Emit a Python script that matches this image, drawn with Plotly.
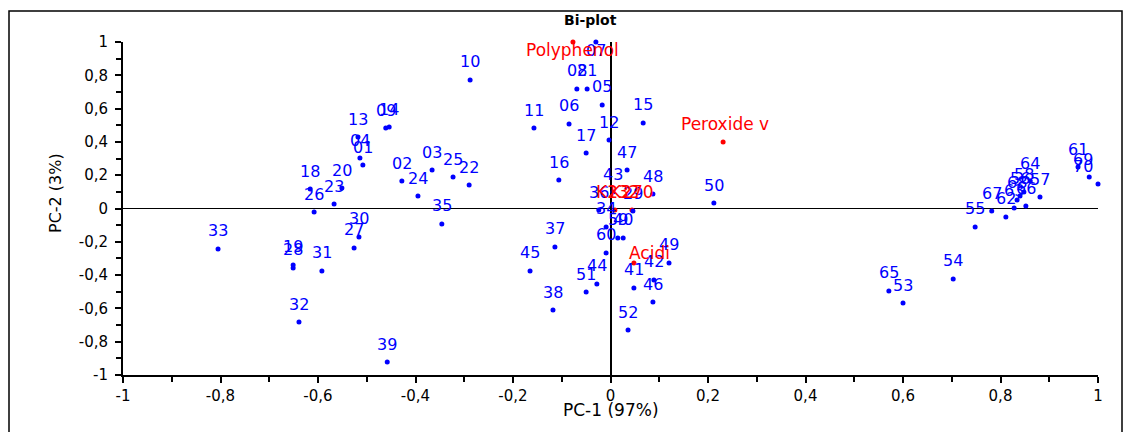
import plotly.graph_objects as go

# ---- observations (scores) ----
obs_labels = ["01", "02", "03", "04", "05", "06", "07", "08", "09", "10",
              "11", "12", "13", "14", "15", "16", "17", "18", "19", "20",
              "21", "22", "23", "24", "25", "26", "27", "28", "29", "30",
              "31", "32", "33", "34", "35", "36", "37", "38", "39", "40",
              "41", "42", "43", "44", "45", "46", "47", "48", "49", "50",
              "51", "52", "53", "54", "55", "56", "57", "58", "59", "60",
              "61", "62", "63", "64", "65", "66", "67", "68", "69", "70"]
obs_x = [-0.508, -0.428, -0.366, -0.514, -0.017, -0.085, -0.030, -0.069, -0.461, -0.288,
         -0.157, -0.003, -0.518, -0.454, 0.067, -0.106, -0.050, -0.616, -0.651, -0.551,
         -0.048, -0.290, -0.567, -0.395, -0.323, -0.608, -0.526, -0.651, 0.046, -0.516,
         -0.592, -0.639, -0.805, -0.009, -0.346, -0.024, -0.114, -0.118, -0.458, 0.026,
         0.048, 0.089, 0.005, -0.028, -0.165, 0.087, 0.034, 0.087, 0.120, 0.212,
         -0.050, 0.036, 0.600, 0.703, 0.748, 0.840, 0.881, 0.848, 0.015, -0.009,
         0.959, 0.811, 0.828, 0.861, 0.571, 0.852, 0.782, 0.834, 0.982, 1.000]
obs_y = [0.261, 0.165, 0.231, 0.303, 0.622, 0.508, 1.000, 0.718, 0.483, 0.772,
         0.483, 0.411, 0.429, 0.489, 0.514, 0.171, 0.333, 0.117, -0.339, 0.123,
         0.718, 0.141, 0.027, 0.075, 0.189, -0.021, -0.237, -0.357, -0.015, -0.171,
         -0.375, -0.682, -0.243, -0.111, -0.093, -0.009, -0.231, -0.610, -0.922, -0.177,
         -0.477, -0.429, 0.099, -0.453, -0.375, -0.562, 0.231, 0.087, -0.327, 0.033,
         -0.502, -0.730, -0.568, -0.423, -0.111, 0.075, 0.069, 0.099, -0.177, -0.267,
         0.249, -0.051, 0.003, 0.165, -0.495, 0.015, -0.015, 0.051, 0.189, 0.147]

# ---- variables (loadings) ----
var_labels = ["K232", "K270", "Polyphenol", "Peroxide v", "Acidi"]
var_x = [0.009, 0.044, -0.077, 0.231, 0.048]
var_y = [-0.009, -0.009, 1.000, 0.399, -0.327]

# ---- axis ticks ----
tick_vals = [-1, -0.8, -0.6, -0.4, -0.2, 0, 0.2, 0.4, 0.6, 0.8, 1]
tick_text = ["-1", "-0,8", "-0,6", "-0,4", "-0,2", "0", "0,2", "0,4", "0,6", "0,8", "1"]
minor_vals = [-0.9, -0.7, -0.5, -0.3, -0.1, 0.1, 0.3, 0.5, 0.7, 0.9]

FONT = "DejaVu Sans, Verdana, sans-serif"
BLUE = "#0000ff"
RED = "#ff0000"

# plot-area geometry (pixels), used for label placement only
L, R, T, B = 123, 32, 42, 57
W, H = 1130, 432
PW = W - L - R
PH = H - T - B

fig = go.Figure()

fig.add_trace(go.Scatter(x=var_x, y=var_y, mode="markers",
                         marker=dict(color=RED, size=5), hoverinfo="text",
                         text=var_labels, showlegend=False, cliponaxis=False))
fig.add_trace(go.Scatter(x=obs_x, y=obs_y, mode="markers",
                         marker=dict(color=BLUE, size=5), hoverinfo="text",
                         text=obs_labels, showlegend=False, cliponaxis=False))

annotations = []


def label_shift(x, y):
    px = L + (x + 1) / 2 * PW
    xs, ys = 0, 18
    if px > 1083:
        xs = 1083 - px
    if y > 0.9:
        ys = -8
    return xs, ys


for lab, x, y in zip(obs_labels, obs_x, obs_y):
    xs, ys = label_shift(x, y)
    annotations.append(dict(x=x, y=y, text=lab, showarrow=False, xshift=xs, yshift=ys,
                            font=dict(family=FONT, size=16, color=BLUE),
                            xanchor="center", yanchor="middle"))

var_shift = {"K232": (3, 18), "K270": (0, 18), "Polyphenol": (0, -8),
             "Peroxide v": (2, 18), "Acidi": (16, 10)}
for lab, x, y in zip(var_labels, var_x, var_y):
    xs, ys = var_shift[lab]
    annotations.append(dict(x=x, y=y, text=lab, showarrow=False, xshift=xs, yshift=ys,
                            font=dict(family=FONT, size=17, color=RED),
                            xanchor="center", yanchor="middle"))

# title and axis titles
annotations.append(dict(xref="paper", yref="paper", x=(590 - L) / PW, y=(H - B - 20) / PH,
                        text="<b>Bi-plot</b>", showarrow=False,
                        font=dict(family=FONT, size=14, color="black"),
                        xanchor="center", yanchor="middle"))
annotations.append(dict(xref="paper", yref="paper", x=(55 - L) / PW, y=(H - B - 193) / PH,
                        text="PC-2 (3%)", showarrow=False, textangle=-90,
                        font=dict(family=FONT, size=16, color="black"),
                        xanchor="center", yanchor="middle"))
annotations.append(dict(xref="paper", yref="paper", x=(611 - L) / PW, y=(H - B - 410) / PH,
                        text="PC-1 (97%)", showarrow=False,
                        font=dict(family=FONT, size=17, color="black"),
                        xanchor="center", yanchor="middle"))

axis_common = dict(range=[-1, 1], tickmode="array", tickvals=tick_vals, ticktext=tick_text,
                   showgrid=False, showline=True, linecolor="black", linewidth=2,
                   ticks="outside", ticklen=6, tickwidth=2, tickcolor="black",
                   tickfont=dict(family=FONT, size=15, color="black"),
                   minor=dict(tickvals=minor_vals, ticks="outside", ticklen=5,
                              tickwidth=2, tickcolor="black", showgrid=False),
                   zeroline=True, zerolinecolor="black", fixedrange=True)

fig.update_layout(
    width=W, height=H,
    margin=dict(l=L, r=R, t=T, b=B),
    paper_bgcolor="white", plot_bgcolor="white",
    xaxis=dict(**axis_common, zerolinewidth=2),
    yaxis=dict(**axis_common, zerolinewidth=1, ticklabelstandoff=4),
    annotations=annotations,
    shapes=[dict(type="rect", xref="paper", yref="paper",
                 x0=(9 - L) / PW, x1=(1122 - L) / PW,
                 y0=(H - B - 440) / PH, y1=(H - B - 11) / PH,
                 line=dict(color="black", width=1.5), layer="below")],
    font=dict(family=FONT),
)

fig.write_html("out.html")
